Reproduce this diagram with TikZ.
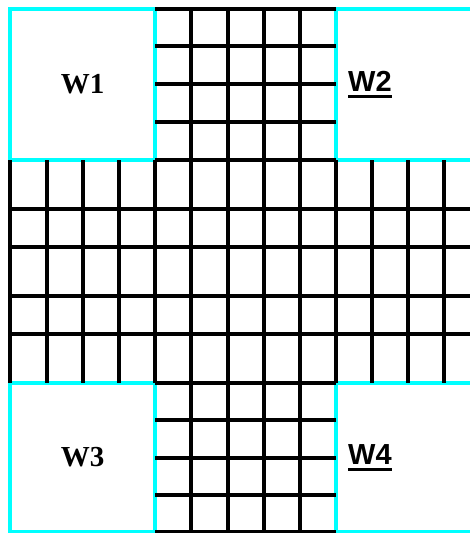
\documentclass[tikz,border=0pt]{standalone}
\usepackage{fontspec}
\usepackage{tikz}
\usetikzlibrary{positioning}
\newfontfamily\wserif{Liberation Serif}
\newfontfamily\wsans{Liberation Sans}
\definecolor{wcyan}{RGB}{0,255,255}
\newcommand{\wul}[1]{\setbox0\hbox{#1}\rlap{\rule[-6.5pt]{\wd0}{2.7pt}}\box0}
\tikzset{
  wbox/.style={draw=wcyan, line width=4pt, inner sep=0pt,
               minimum width=145pt, minimum height=151pt,
               font=\wserif\bfseries\fontsize{29}{29}\selectfont},
  wtag/.style={inner sep=0pt, font=\wsans\bfseries\fontsize{29}{29}\selectfont},
  gline/.style={black, line width=4pt},
}

\begin{document}
\begin{tikzpicture}[x=1pt, y=-1pt]
  \path[use as bounding box, clip] (0,0) rectangle (470,533);
  \node[wbox] (w1) at (82.5,84.5) {W1};
  \node[wbox, minimum width=144pt] (w2) at (408,84.5) {};
  \node[wbox, minimum height=149pt] (w3) at (82.5,457.5) {W3};
  \node[wbox, minimum width=144pt, minimum height=149pt] (w4) at (408,457.5) {};
  \node[wtag, right=14pt of w2.west] (t2) {\wul{W2}};
  \node[wtag, right=14pt of w4.west] (t4) {\wul{W4}};
  \foreach \y in {9,46,84,122,160,383,420,458,495,532}
    \draw[gline] (155,\y) -- (336,\y);
  \foreach \y in {209,247,296,334}
    \draw[gline] (10,\y) -- (480,\y);
  \foreach \x in {191,228,264,300}
    \draw[gline] (\x,9) -- (\x,540);
  \foreach \x in {10,47,83,119,155,336,372,408,444}
    \draw[gline] (\x,160) -- (\x,383);
\end{tikzpicture}
\end{document}
